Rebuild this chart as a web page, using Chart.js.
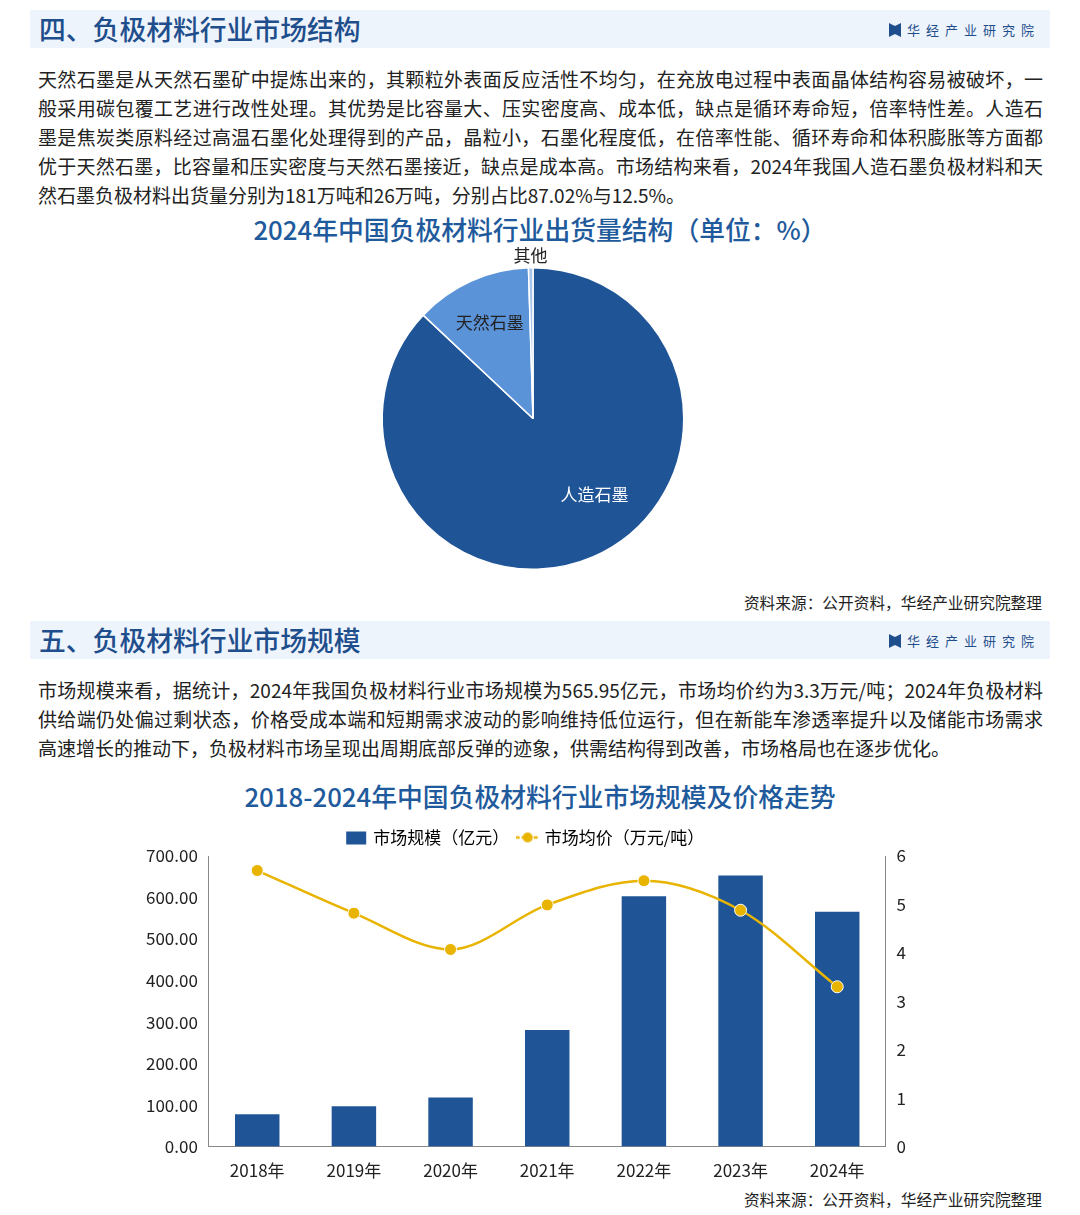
<!DOCTYPE html>
<html><head><meta charset="utf-8">
<script src="https://cdn.jsdelivr.net/npm/chart.js@4"></script>
<style>
body{margin:0;width:1080px;height:1215px;background:#fff;font-family:"Noto Sans CJK SC","Noto Sans",sans-serif;position:relative;overflow:hidden}
.hd{position:absolute;left:30px;width:1020px;height:38px;background:#eef4fc}
.hd h2{margin:0;position:absolute;left:9px;top:-1px;font-size:26.8px;font-weight:500;color:#1f4e8c}
.hd .logo{position:absolute;right:10px;top:10px;font-size:13px;letter-spacing:6px;color:#1f4e8c}
.hd .logo b{display:inline-block;width:12px;height:14px;background:#1f4e8c;vertical-align:-2px;margin-right:6px;clip-path:polygon(0 0,45% 20%,55% 20%,100% 0,100% 100%,55% 80%,45% 80%,0 100%)}
p{position:absolute;left:38px;width:1005px;margin:0;font-size:19px;line-height:29px;color:#222;text-align:justify}
.ct{position:absolute;left:0;width:1080px;text-align:center;font-size:25.8px;font-weight:500;color:#1f5b9c}
.src{position:absolute;right:38px;font-size:15.7px;color:#222}
canvas{position:absolute}
</style></head><body>
<div class="hd" style="top:10px"><h2>四、负极材料行业市场结构</h2><div class="logo"><b></b>华经产业研究院</div></div>
<p style="top:64px">天然石墨是从天然石墨矿中提炼出来的，其颗粒外表面反应活性不均匀，在充放电过程中表面晶体结构容易被破坏，一般采用碳包覆工艺进行改性处理。其优势是比容量大、压实密度高、成本低，缺点是循环寿命短，倍率特性差。人造石墨是焦炭类原料经过高温石墨化处理得到的产品，晶粒小，石墨化程度低，在倍率性能、循环寿命和体积膨胀等方面都优于天然石墨，比容量和压实密度与天然石墨接近，缺点是成本高。市场结构来看，2024年我国人造石墨负极材料和天然石墨负极材料出货量分别为181万吨和26万吨，分别占比87.02%与12.5%。</p>
<div class="ct" style="top:210px">2024年中国负极材料行业出货量结构（单位：%）</div>
<div style="position:absolute;left:333px;top:245px;width:400px;height:335px"><canvas id="pie"></canvas></div>
<div class="src" style="top:591px">资料来源：公开资料，华经产业研究院整理</div>
<div class="hd" style="top:621px"><h2>五、负极材料行业市场规模</h2><div class="logo"><b></b>华经产业研究院</div></div>
<p style="top:675px">市场规模来看，据统计，2024年我国负极材料行业市场规模为565.95亿元，市场均价约为3.3万元/吨；2024年负极材料供给端仍处偏过剩状态，价格受成本端和短期需求波动的影响维持低位运行，但在新能车渗透率提升以及储能市场需求高速增长的推动下，负极材料市场呈现出周期底部反弹的迹象，供需结构得到改善，市场格局也在逐步优化。</p>
<div class="ct" style="top:777px">2018-2024年中国负极材料行业市场规模及价格走势</div>
<div style="position:absolute;left:143px;top:814px;width:766px;height:373px"><canvas id="bar"></canvas></div>
<div class="src" style="top:1188px">资料来源：公开资料，华经产业研究院整理</div>
<script>
const pieLabels = ['人造石墨', '天然石墨', '其他'];
const pieValues = [87.02, 12.5, 0.48];
const pieColors = ['#1f5597', '#5b93d9', '#a9c6ea'];

const years = ['2018年', '2019年', '2020年', '2021年', '2022年', '2023年', '2024年'];
const marketSize = [78, 97, 118, 281, 603, 653, 565.95];
const avgPrice = [5.7, 4.82, 4.07, 4.99, 5.49, 4.88, 3.3];

const BLUE = '#1f5597', GOLD = '#e8b400';
Chart.defaults.font.family = '"Noto Sans CJK SC","Noto Sans",sans-serif';
Chart.defaults.color = '#222';

const pieLabelPlugin = {
  id: 'pieLabels',
  afterDatasetsDraw(chart) {
    const ctx = chart.ctx;
    const arcs = chart.getDatasetMeta(0).data;
    ctx.save();
    ctx.font = '17px "Noto Sans CJK SC"';
    ctx.textAlign = 'center';
    ctx.textBaseline = 'middle';
    arcs.forEach((arc, i) => {
      let mid = (arc.startAngle + arc.endAngle) / 2, r;
      if (i === 2) { r = arc.outerRadius + 12; ctx.fillStyle = '#222'; }
      else if (i === 0) { mid -= 0.27; r = arc.outerRadius * 0.65; ctx.fillStyle = '#fff'; }
      else { r = arc.outerRadius * 0.7; ctx.fillStyle = '#222'; }
      ctx.fillText(pieLabels[i], arc.x + Math.cos(mid) * r, arc.y + Math.sin(mid) * r);
    });
    ctx.restore();
  }
};

new Chart(document.getElementById('pie'), {
  type: 'pie',
  data: {labels: pieLabels, datasets: [{data: pieValues, backgroundColor: pieColors, borderColor: '#fff', borderWidth: 1.5}]},
  options: {
    responsive: true, maintainAspectRatio: false, animation: false,
    layout: {padding: {top: 22, bottom: 10}},
    plugins: {legend: {display: false}, tooltip: {enabled: false}}
  },
  plugins: [pieLabelPlugin]
});

function legendIcon(kind) {
  const c = document.createElement('canvas');
  c.width = 24; c.height = 16;
  const g = c.getContext('2d');
  if (kind === 'bar') { g.fillStyle = BLUE; g.fillRect(2, 2, 20, 13); }
  else {
    g.strokeStyle = GOLD; g.lineWidth = 2.5;
    g.setLineDash([4, 2]);
    g.beginPath(); g.moveTo(0, 8); g.lineTo(24, 8); g.stroke();
    g.fillStyle = GOLD; g.beginPath(); g.arc(12, 8, 5, 0, Math.PI * 2); g.fill();
  }
  return c;
}
const icons = {bar: legendIcon('bar'), line: legendIcon('line')};

new Chart(document.getElementById('bar'), {
  data: {
    labels: years,
    datasets: [
      {type: 'line', label: '市场均价（万元/吨）', data: avgPrice, yAxisID: 'y1', borderColor: GOLD, backgroundColor: GOLD,
       borderWidth: 2.5, cubicInterpolationMode: 'monotone', pointRadius: 6, pointBorderColor: '#fff', pointBorderWidth: 1},
      {type: 'bar', label: '市场规模（亿元）', data: marketSize, yAxisID: 'y', backgroundColor: BLUE, barPercentage: 0.46, categoryPercentage: 1}
    ]
  },
  options: {
    responsive: true, maintainAspectRatio: false, animation: false,
    layout: {padding: {top: 5}},
    plugins: {
      tooltip: {enabled: false},
      legend: {
        reverse: true,
        labels: {font: {size: 17}, usePointStyle: true, padding: 10, color: '#222',
          generateLabels(chart) {
            return chart.data.datasets.map((d, i) => ({text: d.label, pointStyle: icons[d.type], lineWidth: 0, datasetIndex: i}));
          }
        }
      }
    },
    scales: {
      x: {grid: {display: false}, border: {color: '#888'}, ticks: {font: {size: 17}, color: '#222', padding: 6}},
      y: {position: 'left', min: 0, max: 700, grid: {display: false}, border: {color: '#888'},
          ticks: {stepSize: 100, font: {size: 17}, color: '#222', callback: v => v.toFixed(2)}},
      y1: {position: 'right', min: 0, max: 6, grid: {display: false}, border: {color: '#888'},
          ticks: {stepSize: 1, font: {size: 17}, color: '#222'}}
    }
  }
});
</script>
</body></html>
